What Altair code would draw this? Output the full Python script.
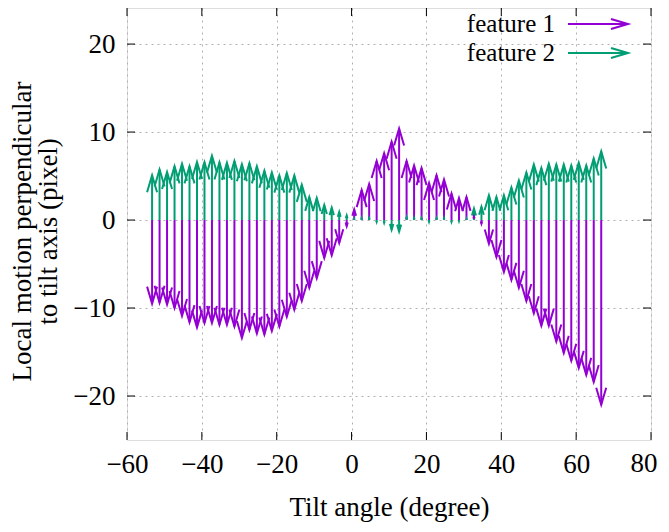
import altair as alt
import pandas as pd

# ---------------- data ----------------
tilt = [-53.3, -51.3, -49.3, -47.3, -45.3, -43.3, -41.3, -39.3, -37.3, -35.3,
        -33.3, -31.3, -29.3, -27.3, -25.3, -23.3, -21.3, -19.3, -17.3, -15.3,
        -13.3, -11.3, -9.3, -7.3, -5.3, -3.3, -1.3, 0.7, 2.7, 4.7,
        6.7, 8.7, 10.7, 12.7, 14.7, 16.7, 18.7, 20.7, 22.7, 24.7,
        26.7, 28.7, 30.7, 32.7, 34.7, 36.7, 38.7, 40.7, 42.7, 44.7,
        46.7, 48.7, 50.7, 52.7, 54.7, 56.7, 58.7, 60.7, 62.7, 64.7, 66.7]

feature1 = [-9.5, -9.4, -9.6, -10.0, -10.9, -11.6, -12.2, -11.7, -11.7, -11.9,
            -11.9, -12.1, -13.4, -12.5, -12.9, -13.0, -12.6, -12.1, -11.0, -10.2,
            -9.2, -7.7, -6.6, -4.3, -4.0, -2.6, -0.7, 1.2, 3.4, 4.1,
            6.7, 7.6, 8.9, 10.4, 6.7, 6.2, 5.9, 4.2, 5.1, 4.6,
            3.0, 2.5, 2.6, 0.4, -0.4, -2.7, -4.2, -5.9, -6.8, -7.7,
            -9.2, -10.6, -12.0, -12.0, -13.8, -15.1, -16.0, -16.8, -17.6, -18.4, -21.0]

feature2 = [5.1, 5.75, 5.45, 6.1, 6.4, 6.1, 6.6, 6.55, 7.3, 6.55,
            6.5, 6.7, 6.35, 6.45, 6.1, 5.6, 5.4, 5.05, 5.35, 5.05,
            4.0, 2.6, 2.5, 1.7, 1.4, 0.9, 0.5, 0.1, 0.2, 0.2,
            -0.2, -0.3, -1.1, -1.3, 0.3, 0.2, 0.2, -0.2, 0.2, 0.2,
            -0.2, -0.1, 0.1, 1.3, 1.5, 2.8, 2.6, 2.8, 3.7, 4.5,
            5.4, 6.3, 5.9, 6.4, 6.3, 6.3, 6.2, 6.5, 6.2, 7.0, 7.8]

series_names = ["feature 1", "feature 2"]
series_colors = ["#9400d3", "#009e73"]
x_ticks = [-60, -40, -20, 0, 20, 40, 60, 80]
y_ticks = [-20, -10, 0, 10, 20]
edge_label = [80]   # last x tick label, drawn slightly inward so it is not cut

# ---------------- layout / style ----------------
W, H = 524, 432
X_DOMAIN = [-60, 80]
Y_DOMAIN = [-25, 24.1]
PX_PER_UNIT = H / (Y_DOMAIN[1] - Y_DOMAIN[0])
HEAD_LEN = 17.0
ARROW = "M -1 3.4 L 0 0 L 1 3.4"
FONT = "Liberation Serif"
LABEL_SIZE = 27
LABEL_PAD = 11

rows = []
for name, vals in zip(series_names, [feature1, feature2]):
    for x, v in zip(tilt, vals):
        length = abs(v) * PX_PER_UNIT
        s = min(HEAD_LEN, 0.6 * length) / HEAD_LEN
        rows.append(dict(series=name, tilt=x, v=v, zero=0.0,
                         angle=0 if v >= 0 else 180, size=(10 * s) ** 2))
df = pd.DataFrame(rows)

xs = alt.Scale(domain=X_DOMAIN, nice=False, zero=False)
ys = alt.Scale(domain=Y_DOMAIN, nice=False, zero=False)
cs = alt.Scale(domain=series_names, range=series_colors)

xaxis = alt.Axis(values=x_ticks, grid=True, gridDash=[2, 4], gridColor="#b0b0b0",
                 gridWidth=1, ticks=False, tickSize=0, domain=False,
                 labelPadding=LABEL_PAD, labelFontSize=LABEL_SIZE, labelFont=FONT,
                 labelColor="black", labelFlush=False, labelOverlap=False,
                 labelExpr="datum.value == 80 ? '' : datum.label",
                 title="Tilt angle (degree)", titleFont=FONT, titleFontSize=27,
                 titleFontWeight="normal", titleColor="black", titlePadding=17)
yaxis = alt.Axis(values=y_ticks, grid=True, gridDash=[2, 4], gridColor="#b0b0b0",
                 gridWidth=1, ticks=False, tickSize=0, domain=False,
                 labelPadding=12, labelFontSize=LABEL_SIZE, labelFont=FONT, labelColor="black",
                 labelFlush=False, labelOverlap=False,
                 title=["Local motion perpendicular", "to tilt axis (pixel)"],
                 titleFont=FONT, titleFontSize=27, titleFontWeight="normal",
                 titleColor="black", titleAngle=270, titleAlign="center",
                 titleBaseline="top", titleLineHeight=26, titleX=-118, titleY=223)

shafts = alt.Chart(df).mark_rule(strokeWidth=2).encode(
    x=alt.X("tilt:Q", scale=xs, axis=xaxis),
    y=alt.Y("zero:Q", scale=ys, axis=yaxis),
    y2=alt.Y2("v:Q"),
    color=alt.Color("series:N", scale=cs, legend=None),
)

heads = alt.Chart(df).transform_filter("datum.size > 0").mark_point(
    shape=ARROW, filled=False, strokeWidth=2, opacity=1
).encode(
    x=alt.X("tilt:Q", scale=xs, axis=xaxis),
    y=alt.Y("v:Q", scale=ys, axis=yaxis),
    size=alt.Size("size:Q", scale=None, legend=None),
    angle=alt.Angle("angle:Q", scale=None),
    color=alt.Color("series:N", scale=cs, legend=None),
)

xt = pd.DataFrame({"t": x_ticks})
yt = pd.DataFrame({"t": y_ticks})
tick_style = dict(color="black", strokeWidth=1)
bottom_ticks = alt.Chart(xt).mark_rule(**tick_style).encode(
    x=alt.X("t:Q", scale=xs, axis=xaxis), y=alt.value(H), y2=alt.value(H - 8))
top_ticks = alt.Chart(xt).mark_rule(**tick_style).encode(
    x=alt.X("t:Q", scale=xs, axis=xaxis), y=alt.value(0), y2=alt.value(8))
left_ticks = alt.Chart(yt).mark_rule(**tick_style).encode(
    y=alt.Y("t:Q", scale=ys, axis=yaxis), x=alt.value(0), x2=alt.value(8))
right_ticks = alt.Chart(yt).mark_rule(**tick_style).encode(
    y=alt.Y("t:Q", scale=ys, axis=yaxis), x=alt.value(W - 8), x2=alt.value(W))

last_label = alt.Chart(pd.DataFrame({"t": edge_label})).mark_text(
    font=FONT, fontSize=LABEL_SIZE, color="black", align="center", baseline="top", dx=-7
).encode(
    x=alt.X("t:Q", scale=xs, axis=xaxis),
    y=alt.value(H + LABEL_PAD),
    text=alt.Text("t:Q", format="d"),
)

legend_layers = []
legend_y = [16, 45]
for name, col, ly in zip(series_names, series_colors, legend_y):
    ld = pd.DataFrame({"label": [name]})
    legend_layers.append(alt.Chart(ld).mark_text(
        align="right", baseline="middle", font=FONT, fontSize=25, color="black"
    ).encode(text="label:N", x=alt.value(428), y=alt.value(ly)))
    legend_layers.append(alt.Chart(ld).mark_rule(color=col, strokeWidth=2).encode(
        x=alt.value(441), x2=alt.value(501), y=alt.value(ly)))
    legend_layers.append(alt.Chart(ld).mark_point(
        shape=ARROW, filled=False, strokeWidth=2, opacity=1, color=col, size=100, angle=90
    ).encode(x=alt.value(501), y=alt.value(ly)))

chart = alt.layer(
    shafts, heads, bottom_ticks, top_ticks, left_ticks, right_ticks, last_label,
    *legend_layers
).properties(
    width=W, height=H,
    autosize=alt.AutoSizeParams(type="none"),
    padding={"left": 119, "top": 0, "right": 8, "bottom": 84},
).configure_view(stroke="black", strokeWidth=1).configure(background="white")

chart.save("out.html", embed_options={"renderer": "svg", "actions": False})
